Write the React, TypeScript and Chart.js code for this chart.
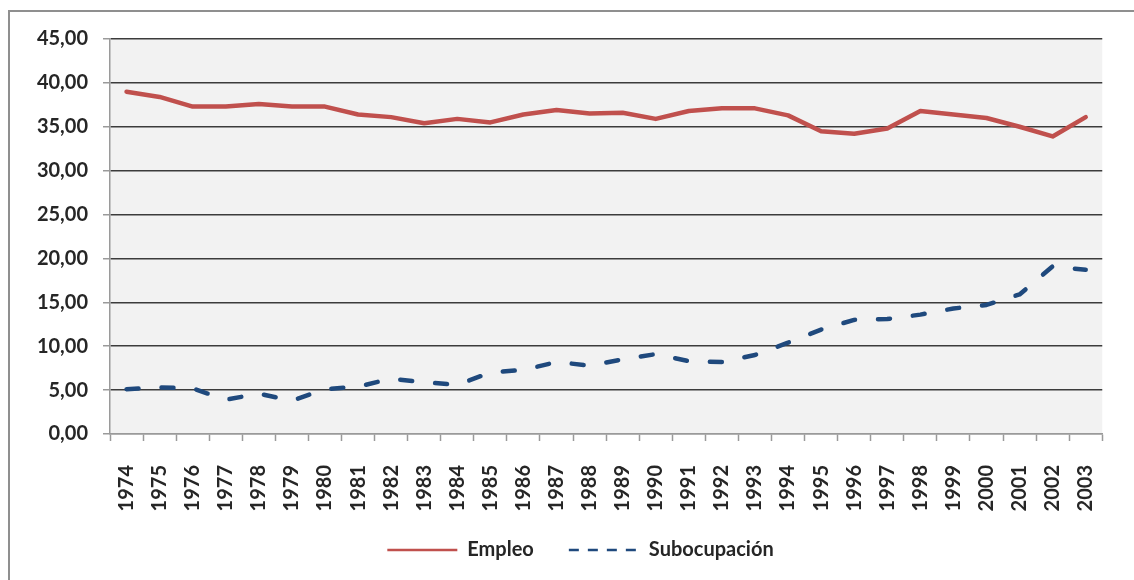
import React, { useEffect, useRef } from "react";
import { Chart, registerables } from "chart.js";

Chart.register(...registerables);

const years = [
  "1974", "1975", "1976", "1977", "1978", "1979", "1980", "1981", "1982", "1983",
  "1984", "1985", "1986", "1987", "1988", "1989", "1990", "1991", "1992", "1993",
  "1994", "1995", "1996", "1997", "1998", "1999", "2000", "2001", "2002", "2003",
];

const empleo = [
  39.0, 38.4, 37.3, 37.3, 37.6, 37.3, 37.3, 36.4, 36.1, 35.4,
  35.9, 35.5, 36.4, 36.9, 36.5, 36.6, 35.9, 36.8, 37.1, 37.1,
  36.3, 34.5, 34.2, 34.8, 36.8, 36.4, 36.0, 35.0, 33.9, 36.1,
];

const subocupacion = [
  5.1, 5.3, 5.2, 3.9, 4.6, 3.8, 5.1, 5.4, 6.3, 5.9,
  5.6, 7.0, 7.3, 8.2, 7.8, 8.5, 9.1, 8.3, 8.2, 9.0,
  10.4, 11.9, 13.0, 13.1, 13.6, 14.3, 14.7, 15.9, 19.1, 18.7,
];

const seriesNames = ["Empleo", "Subocupación"];
const yMin = 0;
const yMax = 45;
const yStep = 5;

const FONT = "Lato";
const TEXT = "#262626";
const FSIZE = 20;

const plotBg = {
  id: "plotBg",
  beforeDraw(chart: any) {
    const { ctx, chartArea } = chart;
    if (!chartArea) return;
    ctx.save();
    ctx.fillStyle = "#f2f2f2";
    ctx.fillRect(chartArea.left, chartArea.top, chartArea.right - chartArea.left, chartArea.bottom - chartArea.top);
    ctx.restore();
  },
};

const legendShift = {
  id: "legendShift",
  afterLayout(chart: any) {
    const lg = chart.legend;
    if (!lg) return;
    lg.left += 17;
    lg.right += 17;
    lg.top -= 10;
    lg.bottom -= 10;
  },
};

export default function App() {
  const ref = useRef<HTMLCanvasElement | null>(null);

  useEffect(() => {
    if (!ref.current) return;
    const chart = new Chart(ref.current, {
      type: "line",
      data: {
        labels: years,
        datasets: [
          {
            label: seriesNames[0],
            data: empleo,
            borderColor: "#c0504d",
            backgroundColor: "#c0504d",
            borderWidth: 4.5,
            pointRadius: 0,
            tension: 0,
            borderJoinStyle: "round",
            borderCapStyle: "round",
          },
          {
            label: seriesNames[1],
            data: subocupacion,
            borderColor: "#1f497d",
            backgroundColor: "#1f497d",
            borderWidth: 4.5,
            borderDash: [12, 23],
            pointRadius: 0,
            tension: 0,
            borderJoinStyle: "round",
            borderCapStyle: "round",
          },
        ],
      },
      options: {
        responsive: false,
        animation: false,
        layout: { padding: { left: 0, right: 17, top: 27, bottom: 0 } },
        plugins: {
          tooltip: { enabled: false },
          legend: {
            position: "bottom",
            labels: {
              usePointStyle: true,
              pointStyle: "line",
              pointStyleWidth: 70,
              padding: 35,
              color: TEXT,
              font: { family: FONT, size: FSIZE, weight: "bold" },
              generateLabels: (c: any) => {
                const items = (Chart.defaults as any).plugins.legend.labels.generateLabels(c);
                return items.map((it: any, i: number) => ({
                  ...it,
                  lineWidth: 2.5,
                  lineDash: i === 1 ? [10, 9] : [],
                  lineCap: "butt",
                  pointStyle: "line",
                  fillStyle: it.strokeStyle,
                }));
              },
            },
          },
        },
        scales: {
          x: {
            offset: true,
            grid: {
              offset: true,
              drawOnChartArea: false,
              drawTicks: true,
              tickLength: 7,
              tickColor: "#9a9a9a",
              tickWidth: 1.5,
            },
            border: { color: "#9a9a9a", width: 1.5 },
            ticks: {
              autoSkip: false,
              minRotation: 90,
              maxRotation: 90,
              padding: 24,
              color: TEXT,
              font: { family: FONT, size: FSIZE, weight: "bold" },
            },
            afterFit: (s: any) => {
              s.height = 81;
            },
          },
          y: {
            min: yMin,
            max: yMax,
            grid: {
              color: (ctx: any) => (ctx.tick && ctx.tick.value === 0 ? "#9a9a9a" : "#3c3c3c"),
              lineWidth: 1.5,
              tickLength: 7,
              tickColor: "#9a9a9a",
              tickWidth: 1.5,
            },
            border: { color: "#9a9a9a", width: 1.5 },
            ticks: {
              stepSize: yStep,
              padding: 15,
              color: TEXT,
              font: { family: FONT, size: FSIZE, weight: "bold" },
              callback: (v: any) => Number(v).toFixed(2).replace(".", ","),
            },
            afterFit: (s: any) => {
              s.width = 100;
            },
          },
        },
      },
      plugins: [plotBg, legendShift],
    });
    return () => chart.destroy();
  }, []);

  return (
    <div
      style={{
        position: "absolute",
        left: 8,
        top: 10,
        width: 1126,
        height: 570,
        boxSizing: "border-box",
        borderLeft: "2px solid #8f8f8f",
        borderTop: "2px solid #8f8f8f",
        background: "#ffffff",
      }}
    >
      <canvas ref={ref} width={1124} height={568} style={{ display: "block" }} />
    </div>
  );
}
